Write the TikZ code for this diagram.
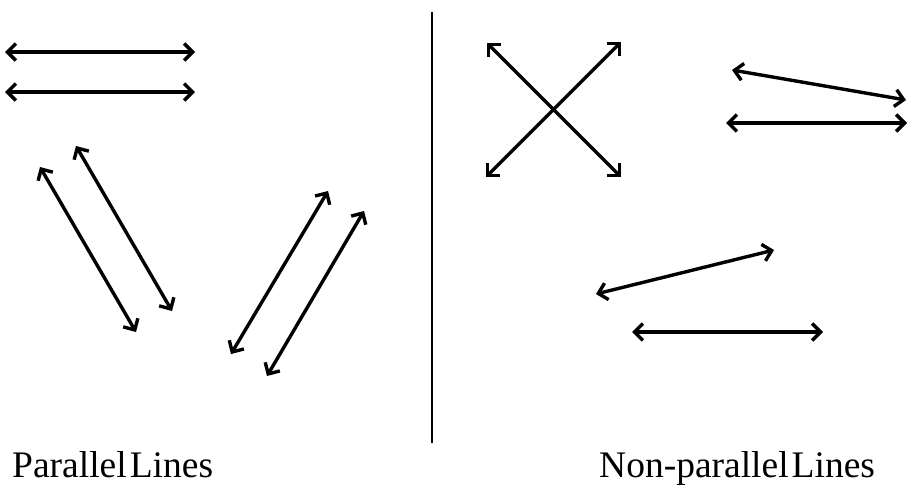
\documentclass[tikz,border=0pt]{standalone}
\usepackage{fontspec}
\setmainfont{Liberation Serif}
\usetikzlibrary{arrows.meta}
\begin{document}
\begin{tikzpicture}[x=1pt,y=-1pt,
  dbl/.style={line width=3.4pt,{Straight Barb[length=8.5pt,width=17pt,line width=3.4pt]}-{Straight Barb[length=8.5pt,width=17pt,line width=3.4pt]}},
  lbl/.style={font=\fontsize{37.5}{40}\selectfont,inner sep=0pt,anchor=base west}]
\useasboundingbox (0,0) rectangle (907,485);
% parallel
\coordinate (h1a) at (5,52); \coordinate (h1b) at (195,52);
\coordinate (h2a) at (5,92); \coordinate (h2b) at (195,92);
\coordinate (d1a) at (40,167); \coordinate (d1b) at (136,332);
\coordinate (d2a) at (76,146); \coordinate (d2b) at (172,311);
\coordinate (e1a) at (328,191); \coordinate (e1b) at (231,354);
\coordinate (e2a) at (364,211); \coordinate (e2b) at (267,376);
\draw[dbl] (h1a) -- (h1b);
\draw[dbl] (h2a) -- (h2b);
\draw[dbl] (d1a) -- (d1b);
\draw[dbl] (d2a) -- (d2b);
\draw[dbl] (e1a) -- (e1b);
\draw[dbl] (e2a) -- (e2b);
% divider
\coordinate (va) at (432,12); \coordinate (vb) at (432,443);
\draw[line width=2.8pt] (va) -- (vb);
% non-parallel
\coordinate (x1a) at (487,43); \coordinate (x1b) at (621,177);
\coordinate (x2a) at (621,42); \coordinate (x2b) at (486,177);
\draw[dbl] (x1a) -- (x1b);
\draw[dbl] (x2a) -- (x2b);
\coordinate (s1a) at (732,70); \coordinate (s1b) at (906,100);
\coordinate (s2a) at (726,123); \coordinate (s2b) at (907,123);
\draw[dbl] (s1a) -- (s1b);
\draw[dbl] (s2a) -- (s2b);
\coordinate (t1a) at (596,294); \coordinate (t1b) at (774,250);
\coordinate (t2a) at (632,332); \coordinate (t2b) at (823,332);
\draw[dbl] (t1a) -- (t1b);
\draw[dbl] (t2a) -- (t2b);
% labels
\node[lbl] (pl) at (12,477) {Parallel\hspace{3pt}Lines};
\node[lbl] (npl) at (599,477) {Non-parallel\hspace{3pt}Lines};
\end{tikzpicture}
\end{document}
